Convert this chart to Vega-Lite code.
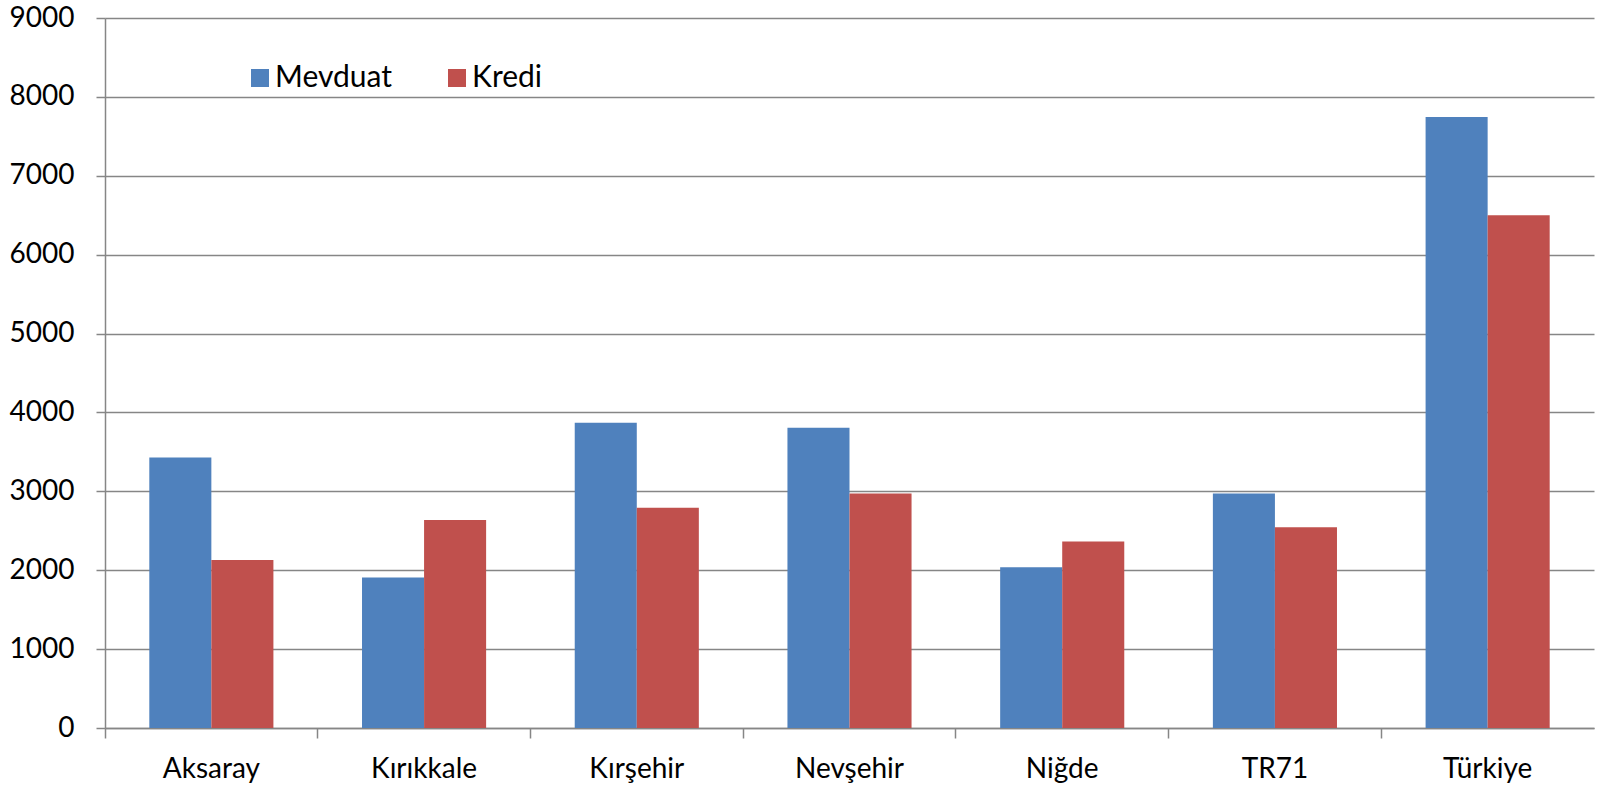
{
  "$schema": "https://vega.github.io/schema/vega-lite/v6.json",
  "autosize": {"type": "none"},
  "padding": {"left": 105, "top": 18, "right": 12, "bottom": 58},
  "width": 1489,
  "height": 710,
  "background": "white",
  "data": {
    "values": [
      {"il": "Aksaray", "tur": "Mevduat", "deger": 3429},
      {"il": "Aksaray", "tur": "Kredi", "deger": 2130},
      {"il": "Kırıkkale", "tur": "Mevduat", "deger": 1909},
      {"il": "Kırıkkale", "tur": "Kredi", "deger": 2636},
      {"il": "Kırşehir", "tur": "Mevduat", "deger": 3870},
      {"il": "Kırşehir", "tur": "Kredi", "deger": 2792},
      {"il": "Nevşehir", "tur": "Mevduat", "deger": 3805},
      {"il": "Nevşehir", "tur": "Kredi", "deger": 2974},
      {"il": "Niğde", "tur": "Mevduat", "deger": 2039},
      {"il": "Niğde", "tur": "Kredi", "deger": 2364},
      {"il": "TR71", "tur": "Mevduat", "deger": 2974},
      {"il": "TR71", "tur": "Kredi", "deger": 2545},
      {"il": "Türkiye", "tur": "Mevduat", "deger": 7745},
      {"il": "Türkiye", "tur": "Kredi", "deger": 6500}
    ]
  },
  "mark": {"type": "bar"},
  "encoding": {
    "x": {
      "field": "il",
      "type": "nominal",
      "sort": null,
      "title": null,
      "scale": {"paddingInner": 0, "paddingOuter": 0},
      "axis": {
        "bandPosition": 0,
        "labelAngle": 0,
        "labelFont": "Lato",
        "labelFontSize": 28,
        "labelColor": "#000000",
        "labelPadding": 17,
        "labelBound": false,
        "labelOverlap": false,
        "tickSize": 10,
        "tickColor": "#868686",
        "tickWidth": 1.5,
        "domainColor": "#868686",
        "domainWidth": 1.5,
        "grid": false
      }
    },
    "xOffset": {
      "field": "tur",
      "type": "nominal",
      "sort": ["Mevduat", "Kredi"],
      "scale": {"paddingInner": 0, "paddingOuter": 0.714}
    },
    "y": {
      "field": "deger",
      "type": "quantitative",
      "title": null,
      "scale": {"domain": [0, 9000], "nice": false},
      "axis": {
        "values": [0, 1000, 2000, 3000, 4000, 5000, 6000, 7000, 8000, 9000],
        "format": "d",
        "labelFont": "Lato",
        "labelFontSize": 28,
        "labelColor": "#000000",
        "labelPadding": 22,
        "tickSize": 9,
        "tickColor": "#868686",
        "tickWidth": 1.5,
        "domainColor": "#868686",
        "domainWidth": 1.5,
        "grid": true,
        "gridColor": "#868686",
        "gridWidth": 1.5
      }
    },
    "color": {
      "field": "tur",
      "type": "nominal",
      "sort": ["Mevduat", "Kredi"],
      "scale": {"domain": ["Mevduat", "Kredi"], "range": ["#4F81BD", "#C0504D"]},
      "legend": {
        "title": null,
        "orient": "none",
        "direction": "horizontal",
        "legendX": 140,
        "legendY": 45,
        "padding": 0,
        "symbolType": "square",
        "symbolSize": 324,
        "symbolStrokeWidth": 0,
        "symbolOpacity": 1,
        "labelFont": "Lato",
        "labelFontSize": 30,
        "labelColor": "#000000",
        "labelOffset": 0,
        "columnPadding": 50
      }
    }
  },
  "config": {
    "view": {"stroke": null},
    "bar": {"opacity": 1}
  }
}
